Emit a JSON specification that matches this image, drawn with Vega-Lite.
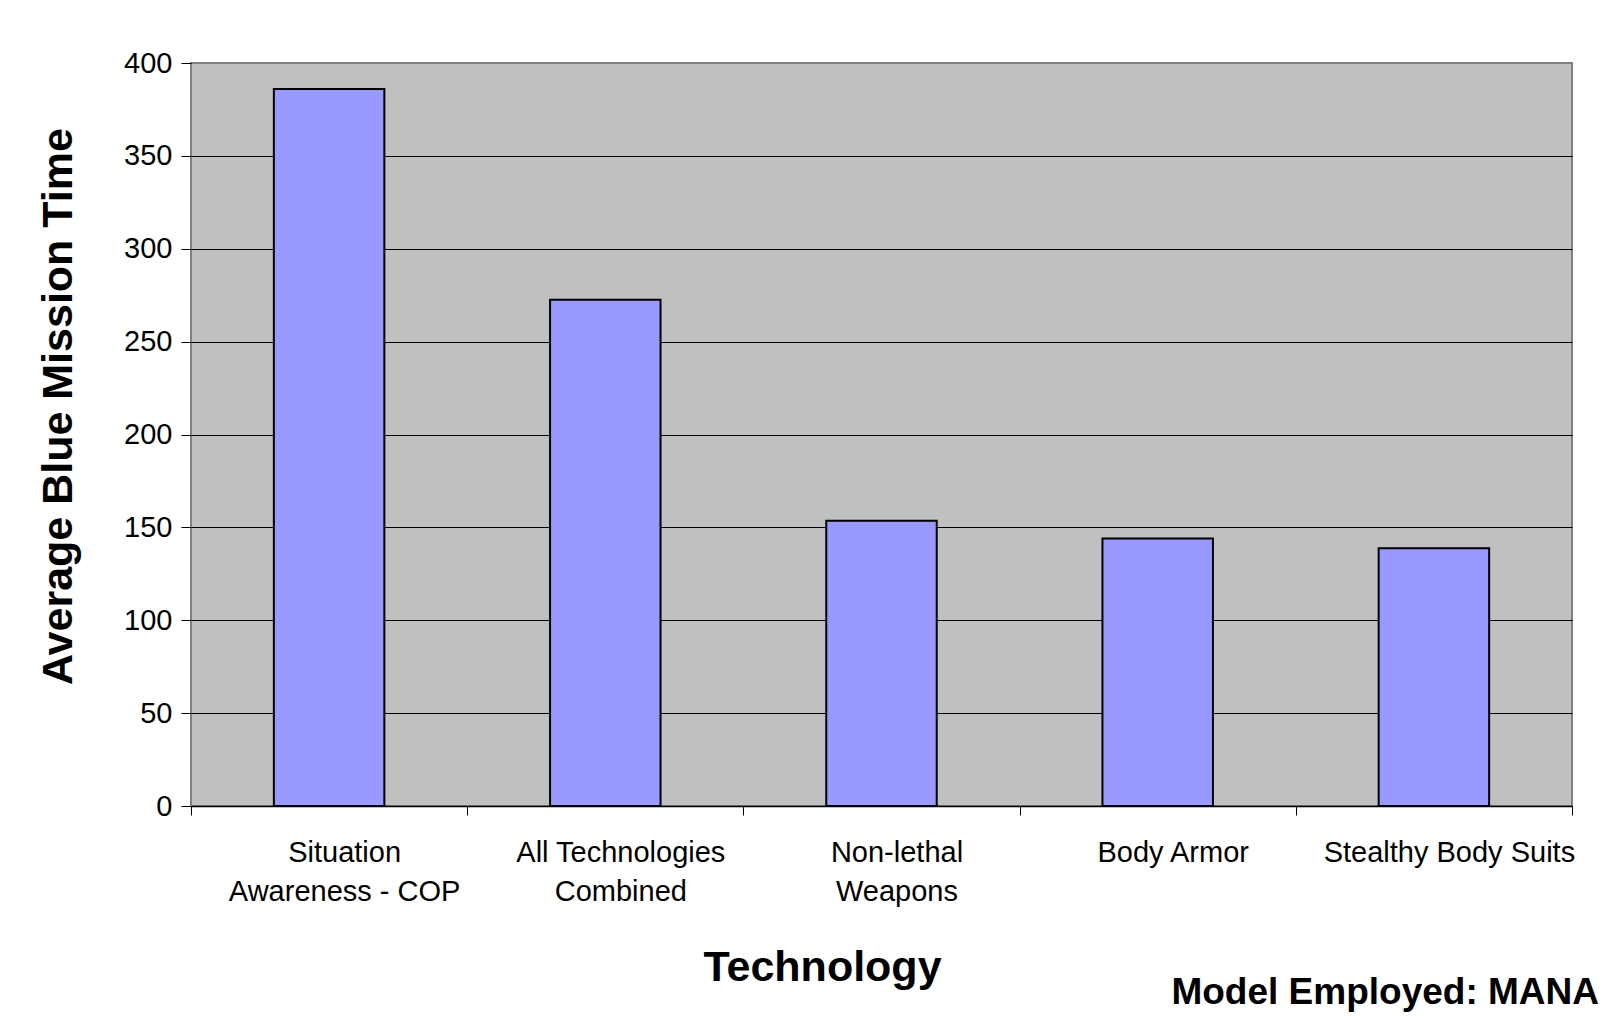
{
  "$schema": "https://vega.github.io/schema/vega-lite/v6.json",
  "width": 1381,
  "height": 743,
  "autosize": {"type": "none"},
  "padding": {"left": 191, "top": 63, "right": 29, "bottom": 211},
  "background": "white",
  "data": {
    "values": [
      {"technology": "Situation Awareness - COP", "time": 386},
      {"technology": "All Technologies Combined", "time": 272.5},
      {"technology": "Non-lethal Weapons", "time": 153.5},
      {"technology": "Body Armor", "time": 144},
      {"technology": "Stealthy Body Suits", "time": 138.7}
    ]
  },
  "title": {
    "text": "Model Employed: MANA",
    "orient": "bottom",
    "anchor": "end",
    "frame": "group",
    "fontSize": 37,
    "fontWeight": "bold",
    "font": "Liberation Sans",
    "color": "black",
    "dx": 27,
    "offset": -14
  },
  "mark": {"type": "bar", "fill": "#9999FF", "stroke": "black", "strokeWidth": 2, "width": {"band": 0.4}},
  "encoding": {
    "x": {
      "field": "technology",
      "type": "nominal",
      "sort": null,
      "scale": {"paddingInner": 0, "paddingOuter": 0},
      "axis": {
        "title": "Technology",
        "titleFontSize": 43,
        "titleFontWeight": "bold",
        "titleColor": "black",
        "titleX": 631,
        "titleY": 174,
        "titleBaseline": "alphabetic",
        "titleAlign": "center",
        "labelAngle": 0,
        "labelFontSize": 29,
        "labelColor": "black",
        "labelPadding": 23,
        "labelLineHeight": 39,
        "labelOffset": 15,
        "labelLimit": 0,
        "labelBaseline": "top",
        "labelExpr": "datum.value == 'Situation Awareness - COP' ? ['Situation', 'Awareness - COP'] : datum.value == 'All Technologies Combined' ? ['All Technologies', 'Combined'] : datum.value == 'Non-lethal Weapons' ? ['Non-lethal', 'Weapons'] : datum.value",
        "tickBand": "extent",
        "tickSize": 9,
        "tickColor": "black",
        "tickWidth": 1,
        "domainColor": "black",
        "domainWidth": 1.5,
        "grid": false
      }
    },
    "y": {
      "field": "time",
      "type": "quantitative",
      "scale": {"domain": [0, 400], "nice": false},
      "axis": {
        "title": "Average Blue Mission Time",
        "titleFontSize": 43,
        "titleFontWeight": "bold",
        "titleColor": "black",
        "titleAngle": -90,
        "titleX": -120,
        "titleY": 343,
        "titleBaseline": "alphabetic",
        "titleAlign": "center",
        "values": [0, 50, 100, 150, 200, 250, 300, 350, 400],
        "labelFontSize": 29,
        "labelColor": "black",
        "labelPadding": 9,
        "tickSize": 10,
        "tickColor": "black",
        "tickWidth": 1,
        "domain": false,
        "grid": true,
        "gridColor": {"condition": {"test": "datum.value == 400", "value": "#808080"}, "value": "black"},
        "gridWidth": 1
      }
    }
  },
  "config": {
    "font": "Liberation Sans",
    "view": {"fill": "#C0C0C0", "stroke": "#808080", "strokeWidth": 2}
  }
}
